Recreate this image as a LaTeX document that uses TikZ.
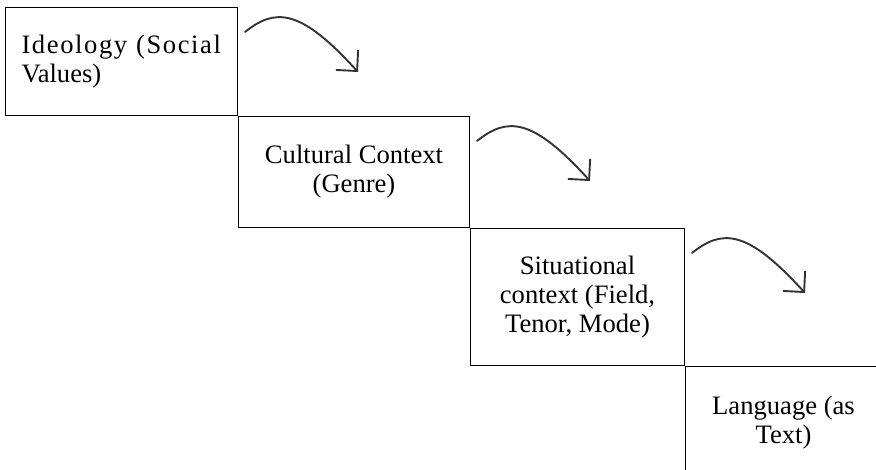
\documentclass[tikz,border=0pt]{standalone}
\usepackage{fontspec}
\setmainfont{Liberation Serif}
\usetikzlibrary{arrows.meta}
\tikzset{
  stage/.style={draw, line width=1pt, rectangle, anchor=north west, align=center,
    inner sep=0pt, font=\fontsize{26.6}{29}\selectfont},
  flow/.style={line width=1.9pt, black!80, line cap=round,
    -{Straight Barb[length=15pt,width=30pt,line width=1.9pt]}}
}
\begin{document}
\begin{tikzpicture}[x=1pt, y=-1pt]
 \useasboundingbox (0,0) rectangle (876,470);
 \clip (0,0) rectangle (876,470);
 \node[stage, minimum width=232pt, minimum height=108pt, align=left, text width=200pt,
   inner xsep=16pt] (ideo) at (5,7)
   {{\addfontfeature{LetterSpace=6}Ideology (Social}\\Values)};
 \node[stage, minimum width=231pt, minimum height=111pt] (cult) at (ideo.south east)
   {Cultural Context\\(Genre)};
 \node[stage, minimum width=214pt, minimum height=137pt] (situ) at (cult.south east)
   {Situational\\context (Field,\\Tenor, Mode)};
 \node[stage, minimum width=196pt, minimum height=113pt] (lang) at (situ.south east)
   {Language (as\\Text)};
 \foreach \s in {ideo,cult,situ} {
   \coordinate (\s-from) at ([shift={(7,25)}]\s.north east);
   \coordinate (\s-to) at ([shift={(120,65)}]\s.north east);
   \draw[flow] (\s-from) .. controls +(30,-24) and +(-58,-64) .. (\s-to);
 }
\end{tikzpicture}
\end{document}
